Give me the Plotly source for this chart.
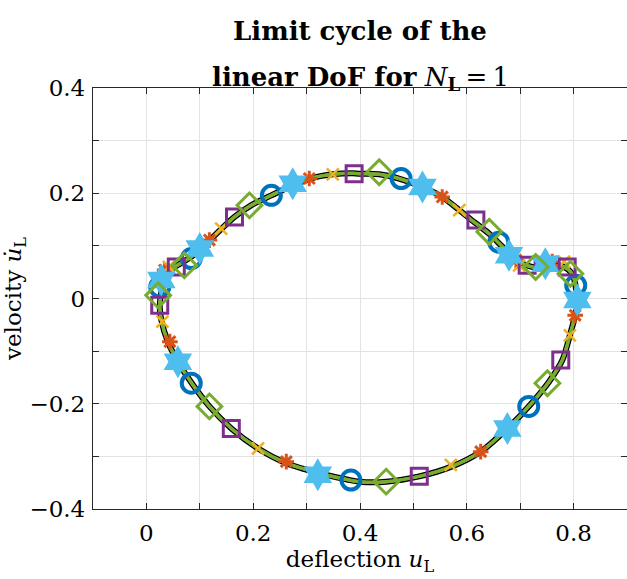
import plotly.graph_objects as go

# ---- limit cycle (closed path, clockwise) ----
cycle_u = [0.025, 0.028, 0.037, 0.050, 0.068, 0.096, 0.125, 0.165, 0.196, 0.234, 0.274, 0.311,
           0.349, 0.386, 0.399, 0.436, 0.473, 0.517, 0.554, 0.586, 0.614, 0.642, 0.667, 0.692,
           0.723, 0.754, 0.782, 0.797, 0.804, 0.805,
           0.803, 0.794, 0.779, 0.754, 0.716, 0.676, 0.626, 0.570, 0.511, 0.449, 0.399, 0.380,
           0.324, 0.262, 0.209, 0.159, 0.118, 0.087, 0.059, 0.040, 0.028, 0.025]
cycle_v = [-0.016, 0.0125, 0.044, 0.058, 0.069, 0.088, 0.117, 0.155, 0.177, 0.196, 0.215, 0.229,
           0.236, 0.238, 0.237, 0.236, 0.228, 0.212, 0.193, 0.168, 0.145, 0.123, 0.098, 0.073,
           0.060, 0.063, 0.060, 0.047, 0.022, -0.016,
           -0.032, -0.066, -0.117, -0.158, -0.205, -0.247, -0.291, -0.320, -0.338, -0.348, -0.348, -0.345,
           -0.332, -0.313, -0.285, -0.247, -0.205, -0.164, -0.120, -0.082, -0.041, -0.016]

# ---- marker series ----
blue_u = [0.025, 0.084, 0.234, 0.477, 0.660, 0.804, 0.716, 0.383, 0.084]
blue_v = [0.022, 0.076, 0.196, 0.228, 0.107, 0.025, -0.205, -0.345, -0.161]

orange_u = [0.034, 0.118, 0.305, 0.554, 0.692, 0.760, 0.803, 0.626, 0.262, 0.044]
orange_v = [0.054, 0.111, 0.228, 0.193, 0.073, 0.070, -0.032, -0.291, -0.310, -0.082]

yellow_u = [0.042, 0.140, 0.349, 0.586, 0.698, 0.782, 0.793, 0.570, 0.209, 0.030]
yellow_v = [0.060, 0.133, 0.236, 0.168, 0.063, 0.070, -0.070, -0.316, -0.285, -0.044]

purple_u = [0.025, 0.056, 0.165, 0.389, 0.617, 0.713, 0.788, 0.776, 0.511, 0.159]
purple_v = [-0.013, 0.060, 0.155, 0.237, 0.149, 0.063, 0.060, -0.117, -0.338, -0.247]

green_u = [0.022, 0.071, 0.193, 0.436, 0.642, 0.729, 0.794, 0.751, 0.449, 0.118]
green_v = [0.006, 0.063, 0.177, 0.240, 0.127, 0.060, 0.047, -0.161, -0.348, -0.205]

cyan_u = [0.028, 0.100, 0.274, 0.517, 0.679, 0.747, 0.807, 0.676, 0.321, 0.059]
cyan_v = [0.035, 0.095, 0.218, 0.212, 0.082, 0.066, -0.003, -0.247, -0.335, -0.120]

x_tickvals = [0, 0.2, 0.4, 0.6, 0.8]
x_ticktext = ["0", "0.2", "0.4", "0.6", "0.8"]
y_tickvals = [-0.4, -0.2, 0, 0.2, 0.4]
y_ticktext = ["\u22120.4", "\u22120.2", "0", "0.2", "0.4"]

title_line1 = "<b>Limit cycle of the</b>"
title_line2 = "<b>linear DoF for</b> <i>N</i><sub><b>L</b></sub>\u2009=\u20091"

FONT = "DejaVu Serif"
AX = "#262626"
GRID = "#e3e3e3"

fig = go.Figure()

# black reference curve
fig.add_trace(go.Scatter(x=cycle_u, y=cycle_v, mode="lines",
                         line=dict(color="black", width=6, shape="spline", smoothing=0.8),
                         showlegend=False, hoverinfo="skip"))

series = [
    ("#0072BD", blue_u, blue_v, "circle-open", 19, 4),
    ("#D95319", orange_u, orange_v, "asterisk-open", 13, 3),
    ("#EDB120", yellow_u, yellow_v, "x-thin-open", 12, 2.5),
    ("#7E2F8E", purple_u, purple_v, "square-open", 16, 3),
    ("#4DBEEE", cyan_u, cyan_v, "hexagram", 25, 0),
    ("#77AC30", green_u, green_v, "diamond-open", 19, 3),
]

line_widths = {"#0072BD": 2.5, "#D95319": 3, "#EDB120": 2.5, "#7E2F8E": 2.5, "#4DBEEE": 2.5, "#77AC30": 3.5}

for col, su, sv, sym, sz, lw in series:
    fig.add_trace(go.Scatter(x=cycle_u, y=cycle_v, mode="lines",
                             line=dict(color=col, width=line_widths[col], shape="spline", smoothing=0.8),
                             showlegend=False, hoverinfo="skip"))
for col, su, sv, sym, sz, lw in series:
    fig.add_trace(go.Scatter(x=su, y=sv, mode="markers",
                             marker=dict(symbol=sym, size=sz, color=col,
                                         line=dict(width=lw, color=col)),
                             showlegend=False, hoverinfo="skip"))

axis_common = dict(
    showline=True, linecolor=AX, linewidth=1.3, mirror="ticks",
    ticks="inside", ticklen=6, tickcolor=AX, tickwidth=1,
    showgrid=True, gridcolor=GRID, gridwidth=1,
    zeroline=False,
    tickfont=dict(family=FONT, size=23, color="#000"),
)

fig.update_xaxes(range=[-0.1, 0.9], tickvals=x_tickvals, ticktext=x_ticktext,
                 ticklabelstandoff=3,
                 minor=dict(dtick=0.1, tick0=0, ticks="inside", ticklen=6, tickcolor=AX,
                            showgrid=True, gridcolor=GRID, gridwidth=1),
                 title=dict(text="deflection <i>u</i><sub>L</sub>", font=dict(family=FONT, size=23, color="#000"),
                            standoff=6),
                 **axis_common)
fig.update_yaxes(range=[-0.4, 0.4], tickvals=y_tickvals, ticktext=y_ticktext,
                 ticklabelstandoff=2,
                 minor=dict(dtick=0.1, tick0=0, ticks="inside", ticklen=6, tickcolor=AX,
                            showgrid=True, gridcolor=GRID, gridwidth=1),
                 title=dict(text="velocity <i>u\u0307</i><sub>L</sub>", font=dict(family=FONT, size=23, color="#000"),
                            standoff=6),
                 **axis_common)

fig.update_layout(
    width=627, height=579,
    margin=dict(l=93, r=0, t=88, b=70),
    paper_bgcolor="white", plot_bgcolor="white",
    showlegend=False,
    annotations=[
        dict(text=title_line1, x=0.5, xref="paper", xanchor="center",
             y=(509 - 31) / 421, yref="paper", yanchor="middle", showarrow=False,
             font=dict(family=FONT, size=26, color="#000")),
        dict(text=title_line2, x=0.5, xref="paper", xanchor="center",
             y=(509 - 79) / 421, yref="paper", yanchor="middle", showarrow=False,
             font=dict(family=FONT, size=26, color="#000")),
    ],
)

fig.write_html("out.html")
